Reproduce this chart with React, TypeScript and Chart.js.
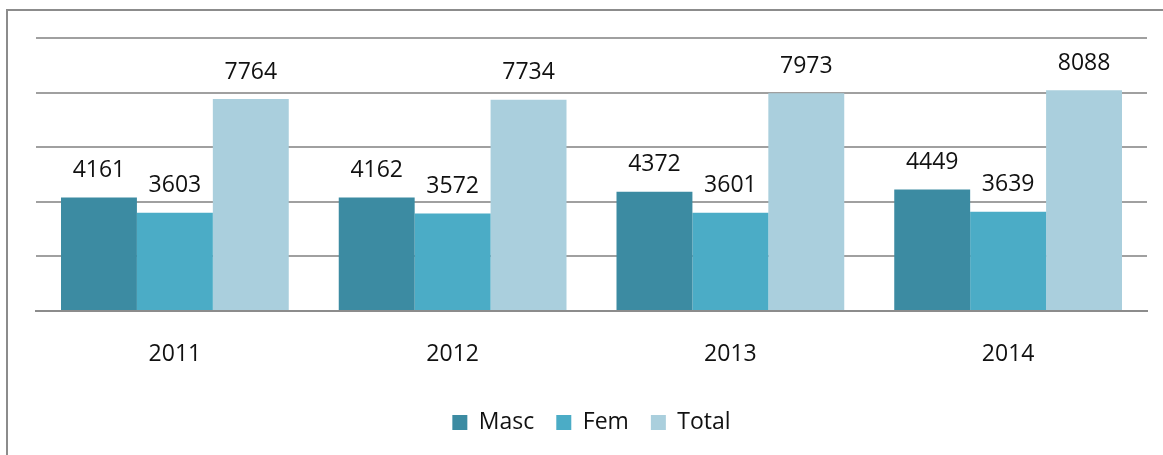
import React, { useEffect, useRef } from "react";
import { Chart, registerables } from "chart.js";

Chart.register(...registerables);

const categories = ["2011", "2012", "2013", "2014"];
const masc = [4161, 4162, 4372, 4449];
const fem = [3603, 3572, 3601, 3639];
const total = [7764, 7734, 7973, 8088];
const seriesNames = ["Masc", "Fem", "Total"];
const yMax = 10000;
const yStep = 2000;

const FONT = "'Open Sans', sans-serif";

const valueLabels = {
  id: "valueLabels",
  afterDatasetsDraw(chart: any) {
    const ctx = chart.ctx;
    ctx.save();
    ctx.font = `23px ${FONT}`;
    ctx.fillStyle = "#111";
    ctx.textAlign = "center";
    ctx.textBaseline = "middle";
    chart.data.datasets.forEach((ds: any, i: number) => {
      const meta = chart.getDatasetMeta(i);
      meta.data.forEach((el: any, j: number) => {
        ctx.fillText(String(ds.data[j]), el.x, el.y - 27);
      });
    });
    ctx.restore();
  },
};

export default function App() {
  const ref = useRef<HTMLCanvasElement>(null);
  useEffect(() => {
    if (!ref.current) return;
    const chart = new Chart(ref.current, {
      type: "bar",
      data: {
        labels: categories,
        datasets: [
          { label: seriesNames[0], data: masc, backgroundColor: "#3C8BA2" },
          { label: seriesNames[1], data: fem, backgroundColor: "#4BACC6" },
          { label: seriesNames[2], data: total, backgroundColor: "#AACFDD" },
        ],
      },
      options: {
        animation: false,
        responsive: false,
        maintainAspectRatio: false,
        layout: { padding: { left: 36, right: 16, top: 38, bottom: 11 } },
        datasets: { bar: { categoryPercentage: 0.82, barPercentage: 1 } },
        scales: {
          x: {
            grid: { display: false },
            border: { display: true, color: "#8C8C8C", width: 2 },
            ticks: { padding: 22, color: "#111", font: { family: FONT, size: 23 } },
            afterFit: (s: any) => {
              s.height = 78;
            },
          },
          y: {
            min: 0,
            max: yMax,
            ticks: { display: false, stepSize: yStep },
            grid: { color: "#A0A0A0", lineWidth: 2, drawTicks: false },
            border: { display: false },
          },
        },
        plugins: {
          legend: {
            position: "bottom",
            labels: {
              boxWidth: 15,
              boxHeight: 15,
              padding: 22,
              color: "#111",
              font: { family: FONT, size: 23 },
            },
          },
          tooltip: { enabled: false },
        },
      },
      plugins: [valueLabels],
    });
    return () => chart.destroy();
  }, []);
  return (
    <div style={{ position: "fixed", left: 0, top: 0, width: 1163, height: 455, background: "#fff" }}>
      <div
        style={{
          position: "absolute",
          left: 6,
          top: 9,
          width: 1157,
          height: 446,
          borderLeft: "2px solid #8C8C8C",
          borderTop: "2px solid #8C8C8C",
          boxSizing: "border-box",
        }}
      />
      <canvas ref={ref} width={1163} height={455} style={{ position: "absolute", left: 0, top: 0 }} />
    </div>
  );
}
